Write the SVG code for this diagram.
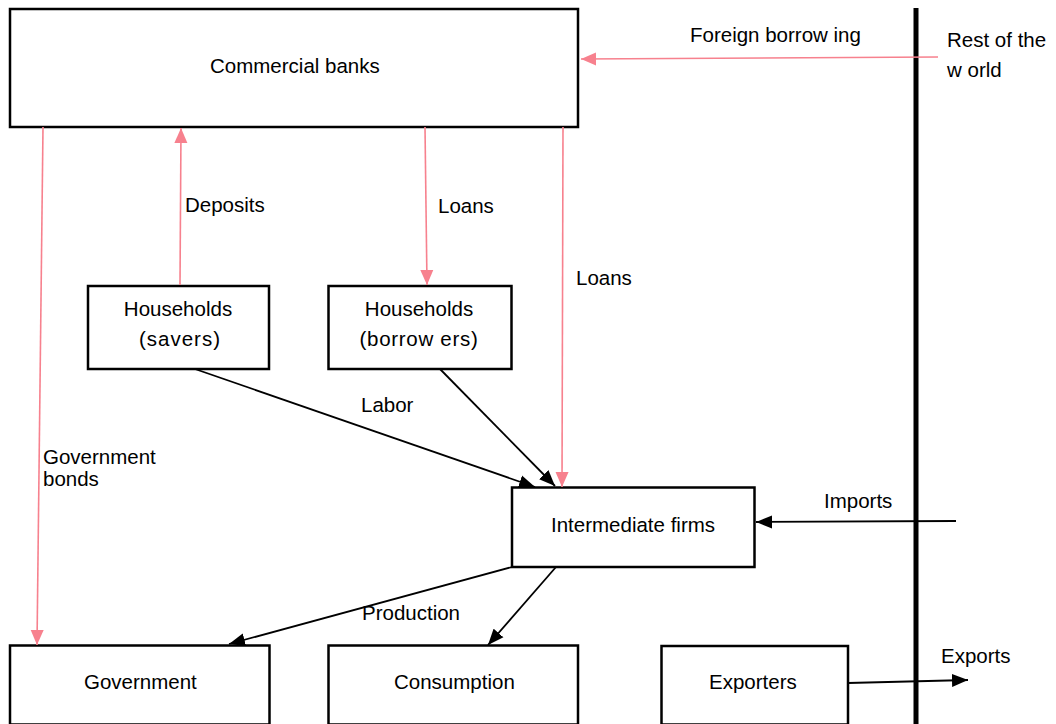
<svg xmlns="http://www.w3.org/2000/svg" width="1056" height="724" viewBox="0 0 1056 724">
<style>
.box{fill:#fff;stroke:#000;stroke-width:2.5}
.t{font-family:"Liberation Sans",Arial,sans-serif;font-size:20.5px;fill:#000}
.c{text-anchor:middle}
.pk{stroke:#F7818E;stroke-width:1.6;fill:none}
.bk{stroke:#000;stroke-width:1.8;fill:none}
</style>
<defs>
<marker id="ab" markerUnits="userSpaceOnUse" markerWidth="17" markerHeight="14" refX="16" refY="7" orient="auto" viewBox="0 0 17 14">
<path d="M0,0.5 L16,7 L0,13.5 z" fill="#000"/>
</marker>
<marker id="ap" markerUnits="userSpaceOnUse" markerWidth="16" markerHeight="14" refX="15" refY="7" orient="auto" viewBox="0 0 16 14">
<path d="M0,0.5 L15,7 L0,13.5 z" fill="#F7818E"/>
</marker>
</defs>
<rect width="1056" height="724" fill="#fff"/>
<line x1="916" y1="8" x2="916" y2="724" stroke="#000" stroke-width="5"/>
<g id="commercial-banks"><rect class="box" x="10" y="9" width="568" height="118"/><text class="t" x="210" y="73">Commercial banks</text></g>
<g id="households-savers"><rect class="box" x="88" y="286" width="181" height="83"/><text class="t c" x="178" y="316">Households</text><text class="t c" x="180" y="346" letter-spacing="1">(savers)</text></g>
<g id="households-borrowers"><rect class="box" x="328.5" y="286" width="183" height="83"/><text class="t c" x="419" y="316">Households</text><text class="t c" x="419" y="346" letter-spacing="0.7">(borrow ers)</text></g>
<g id="intermediate-firms"><rect class="box" x="512" y="487.5" width="242.5" height="79.5"/><text class="t" x="551" y="532">Intermediate firms</text></g>
<g id="government"><rect class="box" x="10" y="645.5" width="259.5" height="79"/><text class="t" x="84" y="689">Government</text></g>
<g id="consumption"><rect class="box" x="328.5" y="645.5" width="249.5" height="79"/><text class="t" x="394" y="689">Consumption</text></g>
<g id="exporters"><rect class="box" x="661.5" y="646" width="186.5" height="78.5"/><text class="t" x="709" y="689">Exporters</text></g>
<g id="rest-of-world"><text class="t" x="947" y="47">Rest of the</text><text class="t" x="947" y="77">w orld</text></g>
<g id="connectors">
<line class="pk" x1="938" y1="57" x2="581" y2="59" marker-end="url(#ap)"/>
<line class="pk" x1="180" y1="285" x2="181" y2="128" marker-end="url(#ap)"/>
<line class="pk" x1="425" y1="127" x2="427" y2="285" marker-end="url(#ap)"/>
<line class="pk" x1="563" y1="127" x2="562" y2="487" marker-end="url(#ap)"/>
<line class="pk" x1="43" y1="127" x2="37" y2="645" marker-end="url(#ap)"/>
<line class="bk" x1="195" y1="369" x2="535" y2="487" marker-end="url(#ab)"/>
<line class="bk" x1="440" y1="369" x2="555" y2="486" marker-end="url(#ab)"/>
<line class="bk" x1="956" y1="521" x2="756" y2="522" marker-end="url(#ab)"/>
<line class="bk" x1="512" y1="567" x2="229" y2="644" marker-end="url(#ab)"/>
<line class="bk" x1="556" y1="567" x2="488" y2="645" marker-end="url(#ab)"/>
<line class="bk" x1="848" y1="683" x2="968" y2="680" marker-end="url(#ab)"/>
<text class="t" x="690" y="42">Foreign borrow ing</text>
<text class="t" x="185" y="212">Deposits</text>
<text class="t" x="438" y="213">Loans</text>
<text class="t" x="576" y="285">Loans</text>
<text class="t" x="361" y="412">Labor</text>
<text class="t" x="43" y="464">Government</text>
<text class="t" x="43" y="486">bonds</text>
<text class="t" x="824" y="508">Imports</text>
<text class="t" x="362" y="620">Production</text>
<text class="t" x="941" y="663">Exports</text>
</g>
</svg>
